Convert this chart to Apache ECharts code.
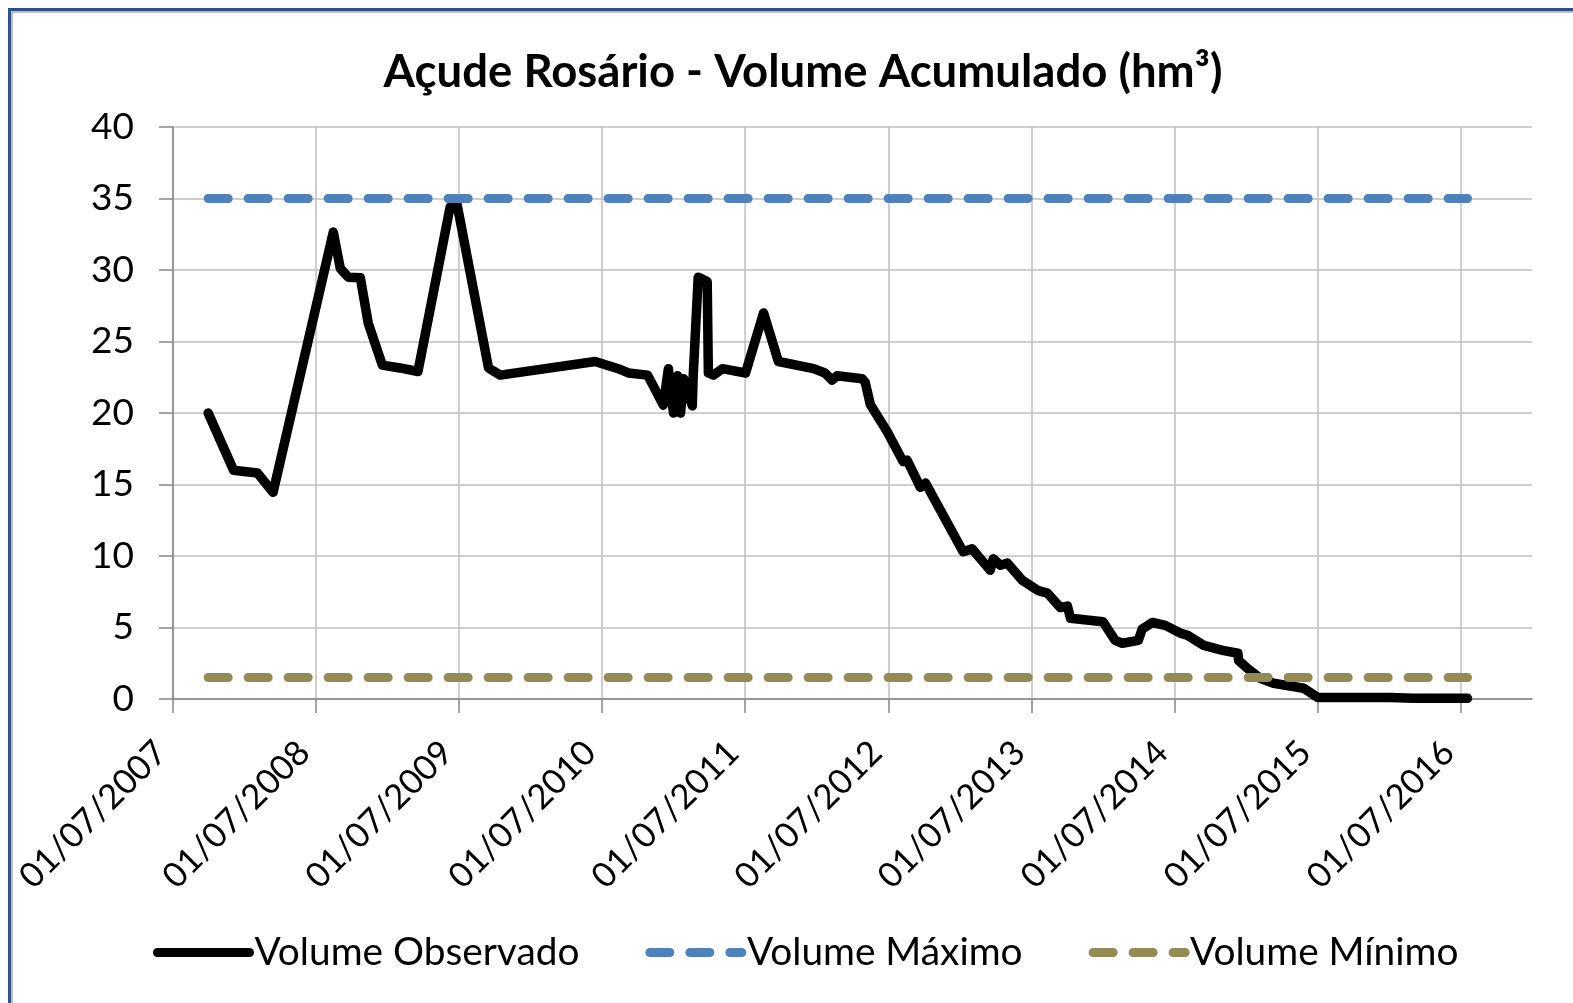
<!DOCTYPE html>
<html>
<head>
<meta charset="utf-8">
<script src="https://cdn.jsdelivr.net/npm/echarts@6/dist/echarts.min.js"></script>
<style>
html,body{margin:0;padding:0;background:#fff;}
#chart{width:1573px;height:1003px;}
</style>
</head>
<body>
<div id="chart"></div>
<script>
// ---- data ----
const titleText = 'Açude Rosário - Volume Acumulado (hm³)';
const seriesNames = ['Volume Observado', 'Volume Máximo', 'Volume Mínimo'];
const tickYears = [2007, 2008, 2009, 2010, 2011, 2012, 2013, 2014, 2015, 2016];

const obsDates = [
  '2007-09-29','2007-12-03','2008-02-02','2008-03-13','2008-08-14','2008-09-01','2008-09-21','2008-10-22',
  '2008-11-11','2008-12-17','2009-01-31','2009-03-18','2009-06-08','2009-06-26','2009-09-14','2009-10-14',
  '2010-06-13','2010-08-11','2010-09-06','2010-10-25','2010-12-04','2010-12-17','2010-12-30','2011-01-09',
  '2011-01-17','2011-01-25','2011-02-16','2011-02-18','2011-03-03','2011-03-26','2011-03-29','2011-04-11',
  '2011-05-04','2011-07-02','2011-08-17','2011-09-24','2011-12-23','2012-01-21','2012-02-08','2012-02-21',
  '2012-04-25','2012-05-03','2012-05-16','2012-06-28','2012-08-08','2012-08-18','2012-09-21','2012-10-04',
  '2013-01-08','2013-01-31','2013-03-18','2013-03-26','2013-04-13','2013-05-01','2013-06-08','2013-07-17',
  '2013-08-11','2013-09-13','2013-10-01','2013-10-09','2013-12-31','2014-01-31','2014-02-18','2014-03-31',
  '2014-04-10','2014-05-06','2014-06-08','2014-07-17','2014-08-04','2014-09-14','2014-11-01','2014-12-10',
  '2014-12-12','2015-01-03','2015-02-05','2015-03-11','2015-05-27','2015-07-02','2016-01-03','2016-03-02',
  '2016-07-19'
];
const obsValues = [
  20.0, 16.0, 15.8, 14.45, 32.65, 30.1, 29.5, 29.45,
  26.3, 23.35, 23.15, 22.9, 34.4, 34.55, 23.15, 22.65,
  23.6, 23.1, 22.8, 22.65, 20.55, 23.1, 20.0, 22.6,
  20.0, 22.4, 20.5, 22.4, 29.5, 29.2, 22.8, 22.65,
  23.1, 22.8, 27.0, 23.6, 23.1, 22.8, 22.3, 22.6,
  22.4, 22.15, 20.6, 18.7, 16.6, 16.7, 14.8, 15.1,
  10.3, 10.5, 9.0, 9.8, 9.35, 9.5, 8.3, 7.6,
  7.4, 6.4, 6.5, 5.65, 5.4, 4.1, 3.9, 4.1,
  4.9, 5.35, 5.15, 4.6, 4.45, 3.75, 3.4, 3.2,
  2.7, 2.15, 1.45, 1.1, 0.75, 0.1, 0.1, 0.05,
  0.05
];
const maxDates = ['2007-09-29', '2016-07-19'];
const maxValues = [35, 35];
const minDates = ['2007-09-29', '2016-07-19'];
const minValues = [1.5, 1.5];

// date -> axis position where each 1 July falls on a whole number
function toX(s) {
  const p = s.split('-').map(Number);
  const t = Date.UTC(p[0], p[1] - 1, p[2]);
  const y0 = p[1] >= 7 ? p[0] : p[0] - 1;
  const a = Date.UTC(y0, 6, 1), b = Date.UTC(y0 + 1, 6, 1);
  return y0 + (t - a) / (b - a);
}
function pairs(ds, vs) { return ds.map((d, i) => [toX(d), vs[i]]); }

const FONT = 'Lato';
const chart = echarts.init(document.getElementById('chart'), null, {renderer: 'canvas'});
chart.setOption({
  backgroundColor: '#ffffff',
  animation: false,
  title: {
    text: titleText,
    left: 798,
    top: 44,
    textAlign: 'center',
    textStyle: {fontFamily: FONT, fontWeight: 'bold', fontSize: 45.5, color: '#000'}
  },
  graphic: [
    {type: 'rect', shape: {x: 9.5, y: 9.5, width: 1700, height: 1200},
     style: {fill: null, stroke: '#2F528F', lineWidth: 3}, silent: true},
    {type: 'rect', shape: {x: 12, y: 12, width: 1700, height: 1200},
     style: {fill: null, stroke: '#A6A6A6', lineWidth: 1.5}, silent: true}
  ],
  legend: {
    left: 148,
    top: 928,
    itemWidth: 92,
    itemHeight: 20,
    itemGap: 66,
    textStyle: {fontFamily: FONT, fontSize: 38.8, color: '#000', padding: [0, 0, 0, 0]},
    lineStyle: {width: 9},
    itemStyle: {opacity: 0, borderWidth: 0},
    data: seriesNames
  },
  grid: {left: 173, right: 41, top: 127, bottom: 304, containLabel: false},
  xAxis: {
    type: 'value',
    min: 2007,
    max: 2016.5,
    interval: 0.5,
    axisLine: {show: true, onZero: false, lineStyle: {color: '#868686', width: 1.5}},
    axisTick: {show: true, customValues: tickYears, length: 14, lineStyle: {color: '#868686', width: 1.5}},
    axisLabel: {
      customValues: tickYears,
      rotate: 45,
      margin: 36,
      padding: [0, 17, 0, 0],
      fontFamily: FONT, fontSize: 34.5, color: '#000',
      formatter: v => '01/07/' + Math.round(v)
    },
    splitLine: {show: true, lineStyle: {color: '#BFBFBF', width: 1.5}}
  },
  yAxis: {
    type: 'value',
    min: 0,
    max: 40,
    interval: 5,
    axisLine: {show: true, lineStyle: {color: '#868686', width: 1.5}},
    axisTick: {show: true, length: 14, lineStyle: {color: '#868686', width: 1.5}},
    axisLabel: {margin: 39, fontFamily: FONT, fontSize: 37, color: '#000'},
    splitLine: {show: true, lineStyle: {color: '#BFBFBF', width: 1.5}}
  },
  series: [
    {
      name: seriesNames[0], type: 'line', symbol: 'none', showSymbol: false,
      data: pairs(obsDates, obsValues),
      lineStyle: {color: '#000000', width: 9.5, cap: 'round', join: 'round'},
      itemStyle: {color: '#000000'}
    },
    {
      name: seriesNames[1], type: 'line', symbol: 'none', showSymbol: false,
      data: pairs(maxDates, maxValues),
      lineStyle: {color: '#4F81BD', width: 9, type: [20, 20], cap: 'round'},
      itemStyle: {color: '#4F81BD'}
    },
    {
      name: seriesNames[2], type: 'line', symbol: 'none', showSymbol: false,
      data: pairs(minDates, minValues),
      lineStyle: {color: '#948A54', width: 9, type: [20, 20], cap: 'round'},
      itemStyle: {color: '#948A54'}
    }
  ]
});
</script>
</body>
</html>
